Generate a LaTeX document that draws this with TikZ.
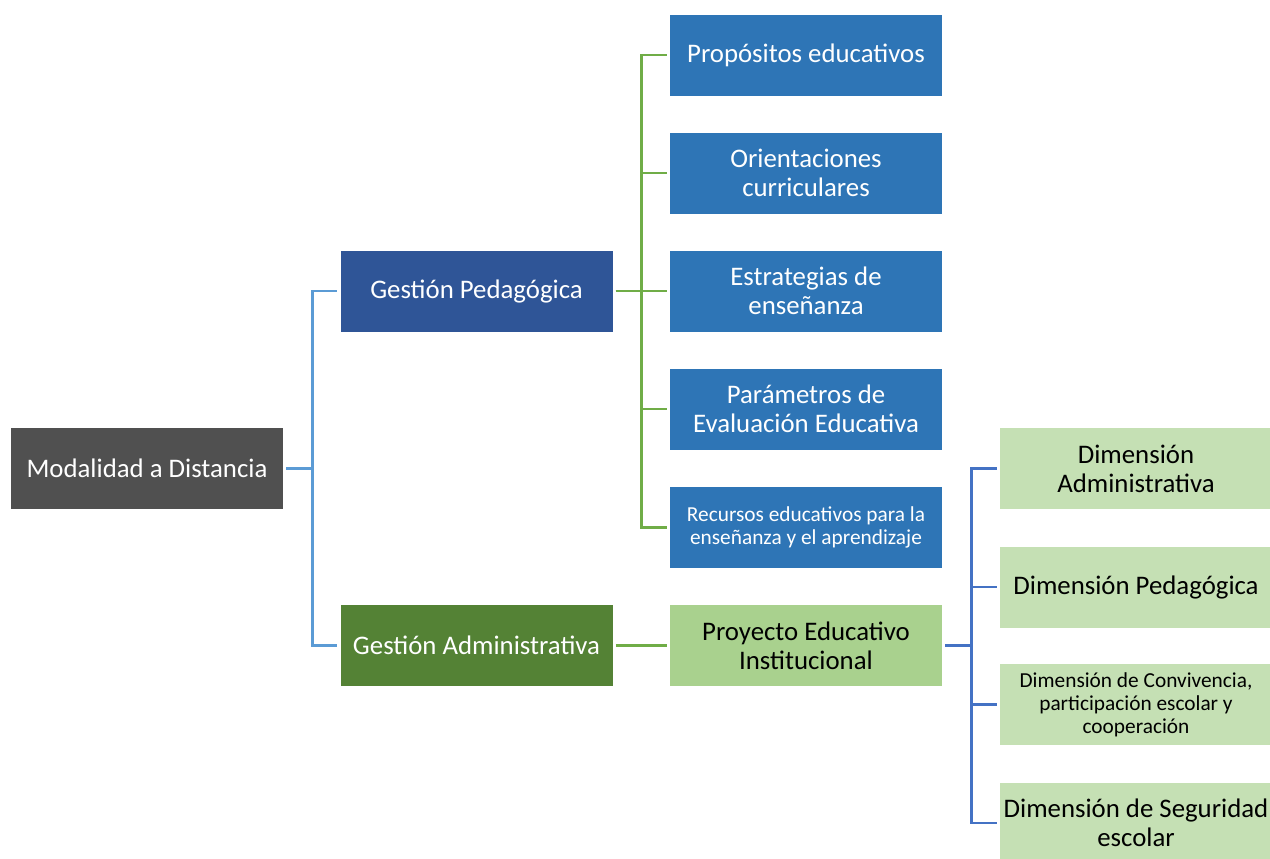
\documentclass[tikz,border=0pt]{standalone}
\usepackage{fontspec}
\setmainfont{Carlito}
\definecolor{rootgray}{HTML}{505050}
\definecolor{pedblue}{HTML}{2F5597}
\definecolor{admgreen}{HTML}{548235}
\definecolor{itemblue}{HTML}{2E75B6}
\definecolor{peigreen}{HTML}{A9D18E}
\definecolor{dimgreen}{HTML}{C5E0B4}
\definecolor{lineblue}{HTML}{5B9BD5}
\definecolor{linegreen}{HTML}{70AD47}
\definecolor{linedim}{HTML}{4472C4}
\begin{document}
\begin{tikzpicture}[x=0.75pt, y=-0.75pt,
    box/.style={inner sep=0pt, minimum width=204pt, minimum height=60.75pt, align=center,
                font=\fontsize{20.1}{21.75}\selectfont},
    smallbox/.style={box, font=\fontsize{16}{17.25}\selectfont},
    darkbox/.style={fill=#1, text=white},
    lightbox/.style={fill=#1, text=black},
    link/.style={draw=#1, line width=2pt, shorten <=2.25pt, shorten >=2.25pt}]
                   \clip (0,0) rectangle (1270,858);

                   % root and first level
                   \node[box, darkbox=rootgray] (modalidad) at (147,468.5) {Modalidad a Distancia};
                   \node[box, darkbox=pedblue] (gped) at (476.5,291) {Gestión Pedagógica};
                   \node[box, darkbox=admgreen] (gadm) at (476.5,645.5) {Gestión Administrativa};

                   % items of Gestion Pedagogica
                   \node[box, darkbox=itemblue] (prop) at (806,55) {Propósitos educativos};
                   \node[box, darkbox=itemblue] (orien) at (806,173) {Orientaciones\\curriculares};
                   \node[box, darkbox=itemblue] (estr) at (806,291) {Estrategias de\\enseñanza};
                   \node[box, darkbox=itemblue] (param) at (806,409) {Parámetros de\\Evaluación Educativa};
                   \node[smallbox, darkbox=itemblue] (recur) at (806,527.5) {Recursos educativos para la\\enseñanza y el aprendizaje};

                   % Gestion Administrativa
                   \node[box, lightbox=peigreen] (pei) at (806,645.5) {Proyecto Educativo\\Institucional};

                   \node[box, lightbox=dimgreen] (dadm) at (1136,468.5) {Dimensión\\Administrativa};
                   \node[box, lightbox=dimgreen] (dped) at (1136,587) {Dimensión Pedagógica};
                   \node[smallbox, lightbox=dimgreen] (dconv) at (1136,704.5) {Dimensión de Convivencia,\\participación escolar y\\cooperación};
                   \node[box, lightbox=dimgreen] (dseg) at (1136,823) {Dimensión de Seguridad\\escolar};

                   % connectors
                   \draw[link=lineblue] (modalidad.east) -- ++(29,0) |- (gped.west);
                   \draw[link=lineblue] (modalidad.east) -- ++(29,0) |- (gadm.west);

                   \draw[link=linegreen] (gped.east) -- ++(29,0) |- (prop.west);
                   \draw[link=linegreen] (gped.east) -- ++(29,0) |- (orien.west);
                   \draw[link=linegreen] (gped.east) -- (estr.west);
                   \draw[link=linegreen] (gped.east) -- ++(29,0) |- (param.west);
                   \draw[link=linegreen] (gped.east) -- ++(29,0) |- (recur.west);

                   \draw[link=linegreen] (gadm.east) -- (pei.west);

                   \draw[link=linedim] (pei.east) -- ++(29,0) |- (dadm.west);
                   \draw[link=linedim] (pei.east) -- ++(29,0) |- (dped.west);
                   \draw[link=linedim] (pei.east) -- ++(29,0) |- (dconv.west);
                   \draw[link=linedim] (pei.east) -- ++(29,0) |- (dseg.west);

        \end{tikzpicture}
\end{document}
